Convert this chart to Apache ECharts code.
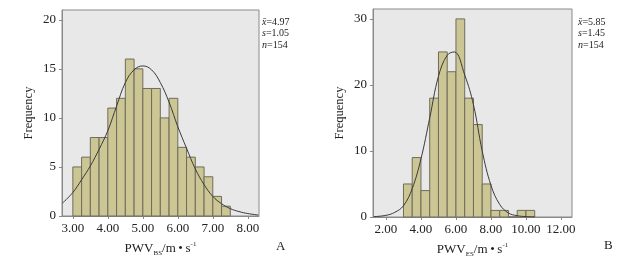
<!DOCTYPE html>
<html>
<head>
<meta charset="utf-8">
<script src="https://cdn.jsdelivr.net/npm/echarts@6/dist/echarts.min.js"></script>
<style>
  html, body { margin: 0; padding: 0; background: #fff; }
  #chart { width: 631px; height: 260px; }
</style>
</head>
<body>
<div id="chart"></div>
<script>
// panel A: PWV_BS histogram (bin width 0.25)
var binLeftA = [3.00, 3.25, 3.50, 3.75, 4.00, 4.25, 4.50, 4.75, 5.00, 5.25, 5.50, 5.75, 6.00, 6.25, 6.50, 6.75, 7.00, 7.25];
var binWidthA = 0.25;
var countsA = [5, 6, 8, 8, 11, 12, 16, 15, 13, 13, 10, 12, 7, 6, 5, 4, 2, 1];
var curveXA = [2.7, 3.0, 3.25, 3.5, 3.75, 4.0, 4.25, 4.5, 4.75, 5.0, 5.25, 5.5, 5.75, 6.0, 6.25, 6.5, 6.75, 7.0, 7.25, 7.5, 7.75, 8.0, 8.3];
var curveYA = [1.3, 2.4, 3.7, 5.1, 6.8, 8.7, 11.2, 13.6, 14.9, 15.3, 14.9, 13.6, 11.6, 9.1, 6.9, 4.8, 3.2, 2.0, 1.25, 0.75, 0.45, 0.25, 0.1];
var xTicksA = [3, 4, 5, 6, 7, 8];
var yTicksA = [0, 5, 10, 15, 20];
var statsA = ['4.97', '1.05', '154'];

// panel B: PWV_ES histogram (bin width 0.5)
var binLeftB = [3.0, 3.5, 4.0, 4.5, 5.0, 5.5, 6.0, 6.5, 7.0, 7.5, 8.0, 8.5, 9.0, 9.5, 10.0];
var binWidthB = 0.5;
var countsB = [5, 9, 4, 18, 25, 22, 30, 18, 14, 5, 1, 1, 0, 1, 1];
var curveXB = [1.3, 2.0, 2.5, 3.0, 3.5, 4.0, 4.5, 5.0, 5.5, 5.9, 6.5, 7.0, 7.5, 8.0, 8.5, 9.0, 9.5, 10.0, 10.5];
var curveYB = [0.05, 0.25, 0.7, 1.7, 4.3, 8.8, 15.0, 21.3, 24.5, 25.0, 21.5, 17.0, 10.0, 4.8, 1.9, 0.6, 0.2, 0.06, 0.02];
var xTicksB = [2, 4, 6, 8, 10, 12];
var yTicksB = [0, 10, 20, 30];
var statsB = ['5.85', '1.45', '154'];

var FONT = '"Liberation Serif", "DejaVu Serif", serif';
var barFill = '#ccc594';
var barStroke = '#6f6c5c';
var frameColor = '#8a8a8a';

function binData(lefts, width, counts) {
    return lefts.map(function (l, i) { return [l, l + width, counts[i]]; });
}
function curveData(xs, ys) {
    return xs.map(function (x, i) { return [x, ys[i]]; });
}

function renderBin(params, api) {
    var top = api.coord([api.value(0), api.value(2)]);
    var bottom = api.coord([api.value(1), 0]);
    return {
        type: 'rect',
        shape: { x: top[0], y: top[1], width: bottom[0] - top[0], height: bottom[1] - top[1] },
        style: { fill: barFill, stroke: barStroke, lineWidth: 1 }
    };
}

function xAxisOf(idx, min, max, ticks, sub) {
    return {
        type: 'value', gridIndex: idx, min: min, max: max,
        axisLine: { show: true, onZero: false, lineStyle: { color: frameColor, width: 1 } },
        axisTick: { show: true, length: 3, customValues: ticks, lineStyle: { color: frameColor } },
        axisLabel: {
            customValues: ticks, margin: 6, color: '#222', fontFamily: FONT, fontSize: 13,
            formatter: function (v) { return v.toFixed(2); }
        },
        splitLine: { show: false },
        name: '{m|PWV}{s|' + sub + '}{m|/m\u2009\u2022\u2009s}{p|-1}',
        nameLocation: 'middle', nameGap: 25,
        nameTextStyle: {
            rich: {
                m: { fontFamily: FONT, fontSize: 13, color: '#222', lineHeight: 16 },
                s: { fontFamily: FONT, fontSize: 7, color: '#222', verticalAlign: 'bottom' },
                p: { fontFamily: FONT, fontSize: 7, color: '#222', verticalAlign: 'top' }
            }
        }
    };
}

function yAxisOf(idx, max, ticks) {
    return {
        type: 'value', gridIndex: idx, min: 0, max: max,
        axisLine: { show: true, lineStyle: { color: frameColor, width: 1 } },
        axisTick: { show: true, length: 3, customValues: ticks, lineStyle: { color: frameColor } },
        axisLabel: { customValues: ticks, margin: 6, color: '#222', fontFamily: FONT, fontSize: 13 },
        splitLine: { show: false },
        name: 'Frequency', nameLocation: 'middle', nameGap: 27,
        nameTextStyle: { fontFamily: FONT, fontSize: 12.5, color: '#222' }
    };
}

function statsText(left, values) {
    var names = ['x\u0304', 's', 'n'];
    return names.map(function (n, i) {
        return {
            type: 'text', x: left, y: 17 + i * 11.7,
            style: {
                text: '{i|' + n + '}=' + values[i],
                font: '10px ' + FONT, fill: '#222',
                rich: { i: { fontStyle: 'italic', fontFamily: FONT, fontSize: 10 } }
            }
        };
    });
}

var chart = echarts.init(document.getElementById('chart'));

var option = {
    backgroundColor: '#fff',
    animation: false,
    grid: [
        { left: 62, top: 10, width: 197, height: 206, outerBoundsMode: 'none', show: true, backgroundColor: '#e8e8e8', borderColor: frameColor, borderWidth: 1 },
        { left: 373, top: 9, width: 199, height: 208, outerBoundsMode: 'none', show: true, backgroundColor: '#e8e8e8', borderColor: frameColor, borderWidth: 1 }
    ],
    xAxis: [
        xAxisOf(0, 2.69, 8.32, xTicksA, 'BS'),
        xAxisOf(1, 1.26, 12.63, xTicksB, 'ES')
    ],
    yAxis: [
        yAxisOf(0, 21, yTicksA),
        yAxisOf(1, 31.5, yTicksB)
    ],
    series: [
        {
            type: 'custom', xAxisIndex: 0, yAxisIndex: 0,
            renderItem: renderBin, encode: { x: [0, 1], y: 2 },
            data: binData(binLeftA, binWidthA, countsA), z: 2
        },
        {
            type: 'line', xAxisIndex: 0, yAxisIndex: 0, smooth: 0.4, showSymbol: false,
            lineStyle: { color: '#3a3a3a', width: 1 },
            data: curveData(curveXA, curveYA), z: 3
        },
        {
            type: 'custom', xAxisIndex: 1, yAxisIndex: 1,
            renderItem: renderBin, encode: { x: [0, 1], y: 2 },
            data: binData(binLeftB, binWidthB, countsB), z: 2
        },
        {
            type: 'line', xAxisIndex: 1, yAxisIndex: 1, smooth: 0.4, showSymbol: false,
            lineStyle: { color: '#3a3a3a', width: 1 },
            data: curveData(curveXB, curveYB), z: 3
        }
    ],
    graphic: statsText(262, statsA).concat(statsText(578, statsB)).concat([
        { type: 'text', x: 276, y: 240, style: { text: 'A', font: '13px ' + FONT, fill: '#222' } },
        { type: 'text', x: 604, y: 239, style: { text: 'B', font: '13px ' + FONT, fill: '#222' } }
    ])
};

chart.setOption(option);
</script>
</body>
</html>
